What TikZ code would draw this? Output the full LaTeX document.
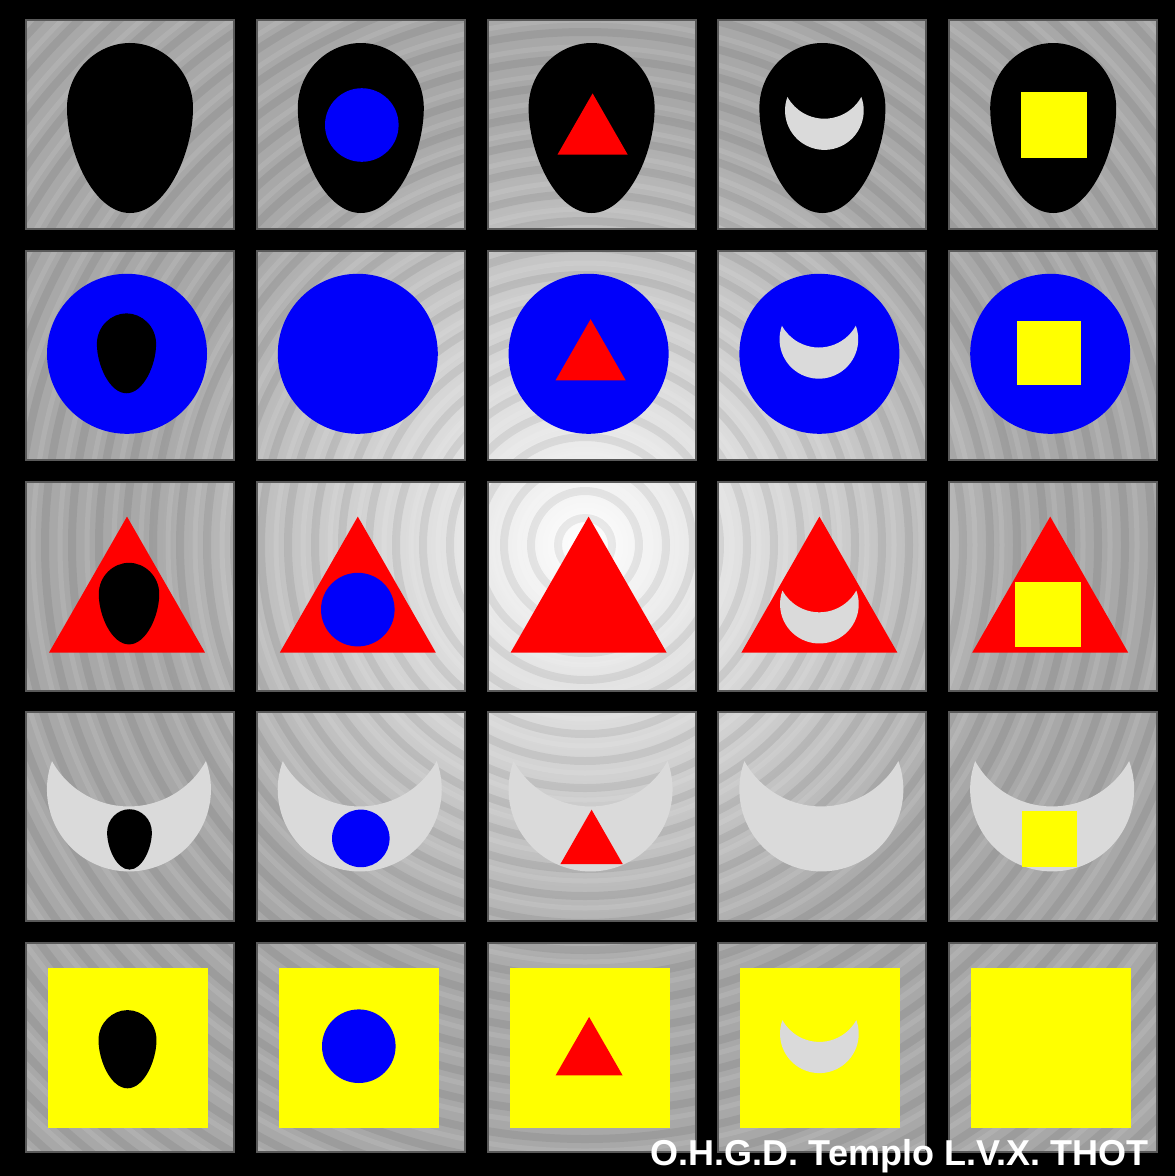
\documentclass[tikz,border=0pt]{standalone}
\usepackage{fontspec}
\newfontfamily\creditfont{Liberation Sans}
\definecolor{tilegray}{HTML}{A8A8A8}
\definecolor{moonsilver}{HTML}{DADADA}
\definecolor{earthyellow}{HTML}{FFFF00}
\definecolor{airblue}{HTML}{0000FA}
\definecolor{firered}{HTML}{FF0000}
% one macro per tattwa: tile corner, offset in the tile, scale
\newcommand{\eggshape}[3]{\fill[black,shift={(#1)},shift={(#2)},scale=#3]
 (0,-85) .. controls (33,-85) and (63,-57) .. (63,-20)
 .. controls (63,25) and (36,85) .. (0,85)
 .. controls (-36,85) and (-63,25) .. (-63,-20)
 .. controls (-63,-57) and (-33,-85) .. (0,-85) -- cycle;}
\newcommand{\discshape}[3]{\fill[airblue,shift={(#1)},shift={(#2)},scale=#3] (0,0) circle (80);}
\newcommand{\trishape}[3]{\fill[firered,shift={(#1)},shift={(#2)},scale=#3]
 (0,-68) -- (78,68) -- (-78,68) -- cycle;}
\newcommand{\moonshape}[3]{\fill[moonsilver,shift={(#1)},shift={(#2)},scale=#3]
 (-77,-54.3) arc[start angle=200.2,end angle=-20.2,radius=82]
 arc[start angle=29,end angle=151,radius=88] -- cycle;}
\newcommand{\squareshape}[3]{\fill[earthyellow,shift={(#1)},shift={(#2)},scale=#3]
 (-80,-80) rectangle (80,80);}

\begin{document}
\begin{tikzpicture}[x=1pt,y=-1pt,
 tileedge/.style={draw=black!65,line width=2pt},
 credit/.style={text=white,inner sep=0pt,font={\creditfont\bfseries\fontsize{36}{40}\selectfont}}]
\useasboundingbox (0,0) rectangle (1175,1176);
\fill[black] (0,0) rectangle (1175,1176);
\foreach \r in {1,...,5}
 \foreach \c in {1,...,5}
  \coordinate (tile-\r-\c) at ({26+230.8*(\c-1)},{20+230.8*(\r-1)});
\coordinate (swirl) at (585,545);

% swirled grey ground of the tiles
\begin{scope}
 \clip \foreach \r in {1,...,5}{\foreach \c in {1,...,5}{(tile-\r-\c) rectangle ++(208,209)}};
 \fill[tilegray] (0,0) rectangle (1175,1176);
 \shade[inner color=white,outer color=tilegray] (swirl) circle (440);
 \foreach \k in {1,...,30}
  \draw[black,opacity=0.07,line width=8pt] (swirl) circle (\k*27);
 \foreach \k in {1,...,30}
  \draw[white,opacity=0.1,line width=5pt] (swirl) circle (\k*27+12);
\end{scope}
\foreach \r in {1,...,5}
 \foreach \c in {1,...,5}
  \draw[tileedge] (tile-\r-\c) rectangle ++(208,209);

% row 1: akasha
\eggshape{tile-1-1}{104,108}{1}
\eggshape{tile-1-2}{104,108}{1}
\discshape{tile-1-2}{105,105}{0.46}
\eggshape{tile-1-3}{104,108}{1}
\trishape{tile-1-3}{105,104}{0.45}
\eggshape{tile-1-4}{104,108}{1}
\moonshape{tile-1-4}{106,103}{0.48}
\eggshape{tile-1-5}{104,108}{1}
\squareshape{tile-1-5}{105,105}{0.41}

% row 2: vayu
\discshape{tile-2-1}{101,103}{1}
\eggshape{tile-2-1}{100.5,102.5}{0.47}
\discshape{tile-2-2}{101,103}{1}
\discshape{tile-2-3}{101,103}{1}
\trishape{tile-2-3}{103,99}{0.45}
\discshape{tile-2-4}{101,103}{1}
\moonshape{tile-2-4}{100.5,101}{0.48}
\discshape{tile-2-5}{101,103}{1}
\squareshape{tile-2-5}{99.5,102.5}{0.4}

% row 3: tejas
\trishape{tile-3-1}{101,103}{1}
\eggshape{tile-3-1}{103,122}{0.48}
\trishape{tile-3-2}{101,103}{1}
\discshape{tile-3-2}{101,128}{0.46}
\trishape{tile-3-3}{101,103}{1}
\trishape{tile-3-4}{101,103}{1}
\moonshape{tile-3-4}{101,135}{0.48}
\trishape{tile-3-5}{101,103}{1}
\squareshape{tile-3-5}{99,133}{0.41}

% row 4: apas
\moonshape{tile-4-1}{103,103}{1}
\eggshape{tile-4-1}{103.5,127}{0.355}
\moonshape{tile-4-2}{103,103}{1}
\discshape{tile-4-2}{104,126}{0.36}
\moonshape{tile-4-3}{103,103}{1}
\trishape{tile-4-3}{104,124.5}{0.4}
\moonshape{tile-4-4}{103,103}{1}
\moonshape{tile-4-5}{103,103}{1}
\squareshape{tile-4-5}{100.5,126.5}{0.345}

% row 5: prithivi
\squareshape{tile-5-1}{102,105}{1}
\eggshape{tile-5-1}{101.5,106}{0.46}
\squareshape{tile-5-2}{102,105}{1}
\discshape{tile-5-2}{102,103}{0.46}
\squareshape{tile-5-3}{102,105}{1}
\trishape{tile-5-3}{101.5,103}{0.43}
\squareshape{tile-5-4}{102,105}{1}
\moonshape{tile-5-4}{101,103}{0.48}
\squareshape{tile-5-5}{102,105}{1}

\node[credit,anchor=base east] (credit) at (1149,1165) {O.H.G.D. Templo L.V.X. THOT};
\end{tikzpicture}
\end{document}
